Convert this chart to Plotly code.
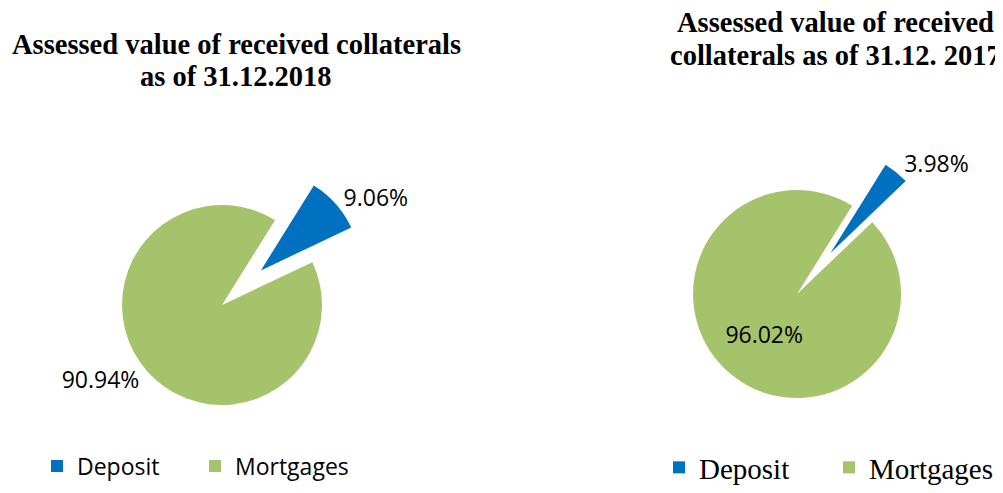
import plotly.graph_objects as go

labels = ['Deposit', 'Mortgages']
# the 2017 legend is a separate one, pies merge legend entries by label,
# so the right pie gets the same names with a trailing space
labels_2017 = ['Deposit ', 'Mortgages ']
share_2018 = [9.06, 90.94]
share_2017 = [3.98, 96.02]
colors = ['#0070C0', '#A5C36A']

title_2018 = ['Assessed value of received collaterals', 'as of 31.12.2018']
title_2017 = ['Assessed value of received', 'collaterals as of 31.12. 2017']

# page body adds an 8px margin, so the figure is 8px smaller than the window
W, H = 995, 485

fig = go.Figure()

# 2018 pie (left)
fig.add_trace(go.Pie(
    labels=labels,
    values=share_2018,
    sort=False,
    direction='clockwise',
    rotation=32,
    pull=[0.52, 0],
    marker=dict(colors=colors, line=dict(width=0)),
    texttemplate='%{percent:.2%}',
    textposition=['outside', 'outside'],
    textfont=dict(family='Open Sans', size=23, color='#000000'),
    domain=dict(x=[0.0623, 0.3679], y=[0.0742, 0.7010]),
    legend='legend',
    hoverinfo='label+percent',
))

# 2017 pie (right)
fig.add_trace(go.Pie(
    labels=labels_2017,
    values=share_2017,
    sort=False,
    direction='clockwise',
    rotation=32,
    pull=[0.51, 0],
    marker=dict(colors=colors, line=dict(width=0)),
    texttemplate='%{percent:.2%}',
    textposition=['outside', 'inside'],
    textfont=dict(family='Open Sans', size=23, color='#000000'),
    insidetextorientation='horizontal',
    domain=dict(x=[0.6352, 0.9508], y=[0.0866, 0.7340]),
    legend='legend2',
    hoverinfo='label+percent',
))

annotations = []
for i, line in enumerate(title_2018):
    annotations.append(dict(
        text='<b>' + line + '</b>', x=228 / W, y=1 - (37 + 32 * i) / H,
        xref='paper', yref='paper', xanchor='center', yanchor='middle',
        showarrow=False,
        font=dict(family='Liberation Serif', size=28.5, color='#000000')))
for i, line in enumerate(title_2017):
    annotations.append(dict(
        text='<b>' + line + '</b>', x=827 / W, y=1 - (14 + 34 * i) / H,
        xref='paper', yref='paper', xanchor='center', yanchor='middle',
        showarrow=False,
        font=dict(family='Liberation Serif', size=28.5, color='#000000')))

fig.update_layout(
    width=W, height=H,
    margin=dict(l=0, r=0, t=0, b=0, autoexpand=False),
    paper_bgcolor='white',
    plot_bgcolor='white',
    legend=dict(
        orientation='h', x=29 / W, xanchor='left', y=27 / H, yanchor='middle',
        font=dict(family='Open Sans', size=23, color='#000000'),
        entrywidth=113, traceorder='normal',
    ),
    legend2=dict(
        orientation='h', x=651 / W, xanchor='left', y=0, yanchor='bottom',
        font=dict(family='Liberation Serif', size=29, color='#000000'),
        entrywidth=125, traceorder='normal',
    ),
    annotations=annotations,
)

fig.write_html('out.html')
